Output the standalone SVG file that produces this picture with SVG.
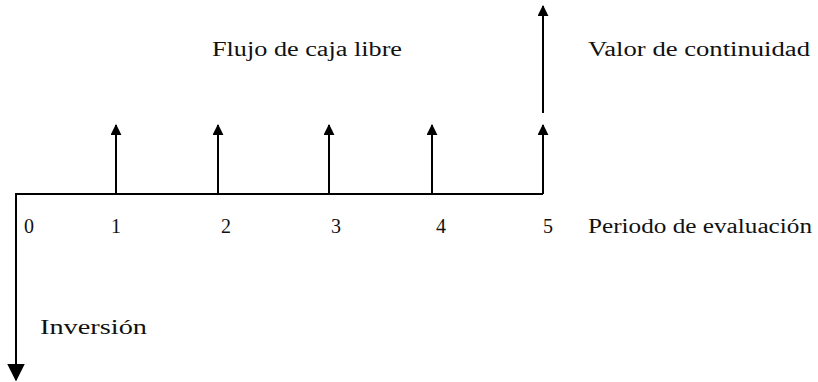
<svg xmlns="http://www.w3.org/2000/svg" width="818" height="382" viewBox="0 0 818 382">
<style>
.t{font-family:'Liberation Serif','Times New Roman',Times,serif;font-size:20px;fill:#111}
.ln{stroke:#000;stroke-width:2;fill:none}
</style>
<defs>
<marker id="ah" viewBox="0 0 12 12" refX="11" refY="6" markerWidth="11" markerHeight="11" markerUnits="userSpaceOnUse" orient="auto">
<path d="M0,0 L12,6 L0,12 Z" fill="#000"/>
</marker>
<marker id="ahb" viewBox="0 0 12 12" refX="11" refY="6" markerWidth="18" markerHeight="18" markerUnits="userSpaceOnUse" orient="auto">
<path d="M0,0 L12,6 L0,12 Z" fill="#000"/>
</marker>
</defs>
<rect width="818" height="382" fill="#fff"/>
<g id="connectors">
<path class="ln" d="M543,194 H16 V380" marker-end="url(#ahb)"/>
<line class="ln" x1="116" y1="194" x2="116" y2="125" marker-end="url(#ah)"/>
<line class="ln" x1="218" y1="194" x2="218" y2="125" marker-end="url(#ah)"/>
<line class="ln" x1="329" y1="194" x2="329" y2="125" marker-end="url(#ah)"/>
<line class="ln" x1="432" y1="194" x2="432" y2="125" marker-end="url(#ah)"/>
<line class="ln" x1="543" y1="194" x2="543" y2="125" marker-end="url(#ah)"/>
<line class="ln" x1="543" y1="113" x2="543" y2="6" marker-end="url(#ah)"/>
</g>
<g id="label-flujo"><text class="t" font-family="Liberation Serif, serif" x="212" y="56" textLength="190" lengthAdjust="spacingAndGlyphs">Flujo de caja libre</text></g>
<g id="label-valor"><text class="t" font-family="Liberation Serif, serif" x="588" y="56" textLength="222" lengthAdjust="spacingAndGlyphs">Valor de continuidad</text></g>
<g id="label-periodo"><text class="t" font-family="Liberation Serif, serif" x="588" y="233" textLength="224" lengthAdjust="spacingAndGlyphs">Periodo de evaluación</text></g>
<g id="label-inversion"><text class="t" font-family="Liberation Serif, serif" x="40" y="334" textLength="107" lengthAdjust="spacingAndGlyphs">Inversión</text></g>
<g id="ticks" class="t" font-family="Liberation Serif, serif">
<text x="29" y="233" text-anchor="middle">0</text>
<text x="116" y="233" text-anchor="middle">1</text>
<text x="226" y="233" text-anchor="middle">2</text>
<text x="336" y="233" text-anchor="middle">3</text>
<text x="441" y="233" text-anchor="middle">4</text>
<text x="548" y="233" text-anchor="middle">5</text>
</g>
</svg>
